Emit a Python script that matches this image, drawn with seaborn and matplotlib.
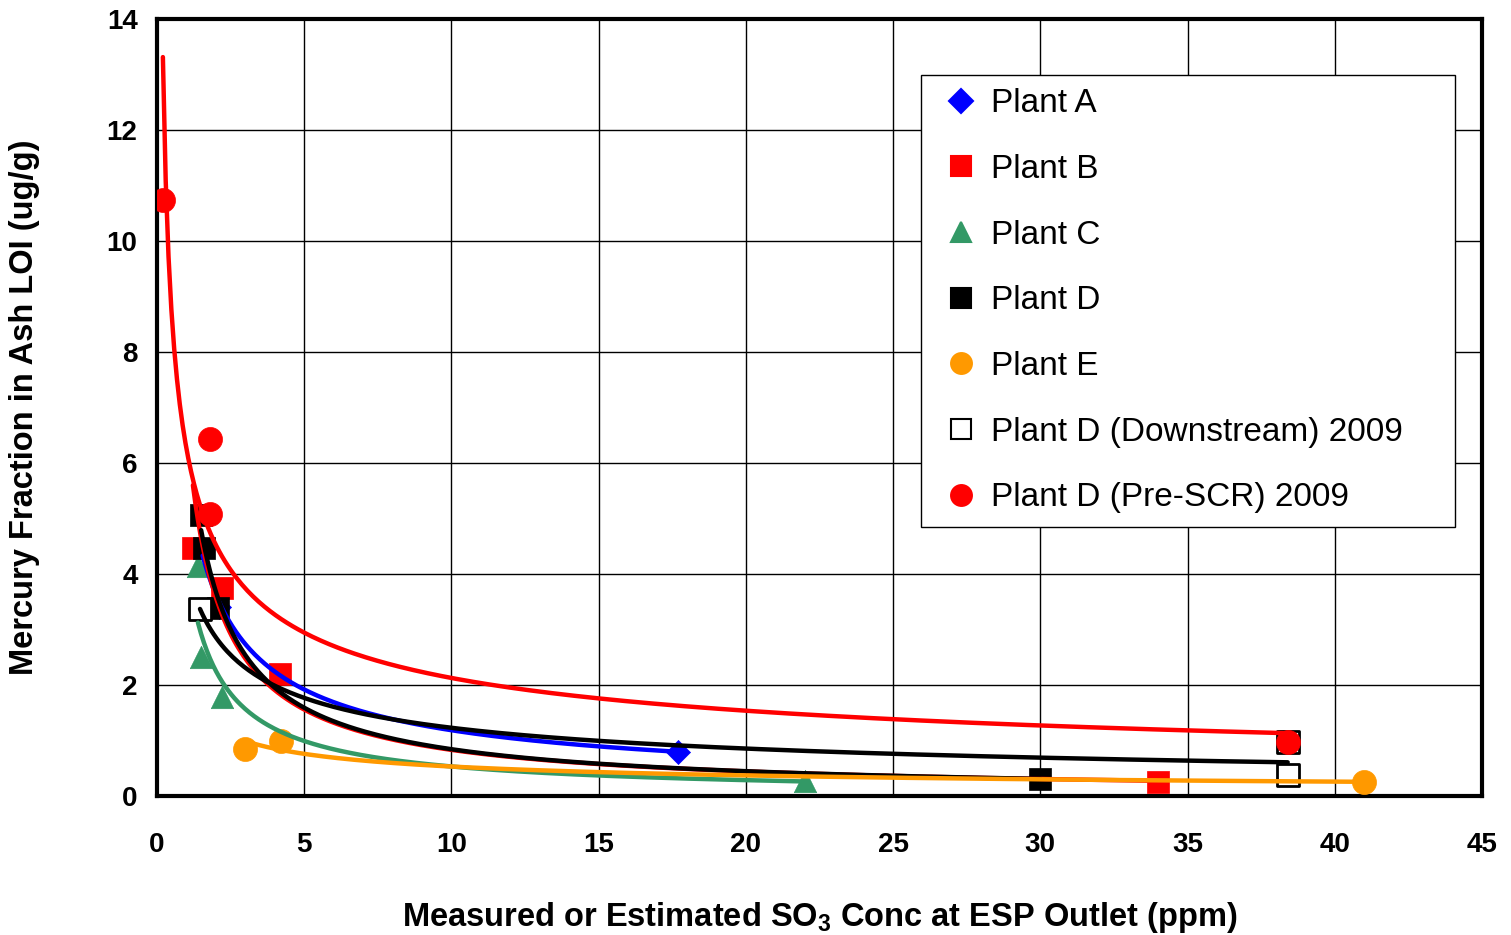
import numpy as np
import pandas as pd
import seaborn as sns
import matplotlib
matplotlib.use("Agg")
import matplotlib.pyplot as plt
from matplotlib.lines import Line2D

# ---- data ----
a_x = [1.55, 2.1, 17.7]
a_y = [4.45, 3.4, 0.80]
b_x = [1.22, 2.2, 4.18, 34.0]
b_y = [4.47, 3.75, 2.20, 0.25]
c_x = [1.39, 1.49, 2.2, 22.0]
c_y = [4.14, 2.50, 1.78, 0.27]
d_x = [1.5, 1.6, 2.07, 30.0]
d_y = [5.06, 4.47, 3.39, 0.31]
e_x = [2.99, 4.21, 41.0]
e_y = [0.85, 0.99, 0.25]
ds_x = [1.46, 38.4, 38.4]
ds_y = [3.37, 0.38, 0.97]
pre_x = [0.2, 1.8, 1.8, 38.4]
pre_y = [10.74, 6.43, 5.08, 0.97]

labels = ["Plant A", "Plant B", "Plant C", "Plant D", "Plant E",
          "Plant D (Downstream) 2009", "Plant D (Pre-SCR) 2009"]

series = [
    (labels[0], a_x, a_y, dict(marker="D", color="#0000FF", ec="#0000FF", s=150), "#0000FF"),
    (labels[1], b_x, b_y, dict(marker="s", color="#FF0000", ec="#FF0000", s=260), "#FF0000"),
    (labels[2], c_x, c_y, dict(marker="^", color="#339966", ec="#339966", s=260), "#339966"),
    (labels[3], d_x, d_y, dict(marker="s", color="#000000", ec="#000000", s=260), "#000000"),
    (labels[4], e_x, e_y, dict(marker="o", color="#FF9900", ec="#FF9900", s=300), "#FF9900"),
    (labels[5], ds_x, ds_y, dict(marker="s", color="#FFFFFF", ec="#000000", s=260), "#000000"),
    (labels[6], pre_x, pre_y, dict(marker="o", color="#FF0000", ec="#FF0000", s=300), "#FF0000"),
]

sns.set_theme(style="white")
plt.rcParams["font.family"] = ["Liberation Sans", "DejaVu Sans"]
plt.rcParams["mathtext.default"] = "regular"
for k in ["text.color", "axes.labelcolor", "xtick.color", "ytick.color"]:
    plt.rcParams[k] = "black"

fig = plt.figure(figsize=(15.11, 9.35), dpi=100)
ax = fig.add_axes([157/1511, 1-796/935, (1482-157)/1511, (796-19)/935])

handles = []
for name, xs, ys, st, lc in series:
    df = pd.DataFrame({"x": xs, "y": ys})
    sns.scatterplot(data=df, x="x", y="y", ax=ax, marker=st["marker"], color=st["color"],
                    edgecolor=st["ec"], linewidth=2 if st["color"] == "#FFFFFF" else 0.5,
                    s=st["s"], zorder=3, legend=False)
    handles.append(Line2D([], [], linestyle="none", marker=st["marker"],
                          markerfacecolor=st["color"], markeredgecolor=st["ec"],
                          markeredgewidth=1.5, markersize=15 if st["marker"] != "D" else 12,
                          label=name))

# power-law trendlines (y = a * x^b), fitted to each series
for name, xs, ys, st, lc in series:
    lx, ly = np.log(xs), np.log(ys)
    b, la = np.polyfit(lx, ly, 1)
    xx = np.linspace(min(xs), max(xs), 400)
    fit = pd.DataFrame({"x": xx, "y": np.exp(la) * xx ** b})
    sns.lineplot(data=fit, x="x", y="y", ax=ax, color=lc, linewidth=3.2, zorder=4,
                 legend=False)

ax.set_xlim(0, 45)
ax.set_ylim(0, 14)
ax.set_xticks(np.arange(0, 46, 5))
ax.set_yticks(np.arange(0, 15, 2))
ax.grid(True, color="black", linewidth=1.0)
ax.set_axisbelow(True)
for sp in ax.spines.values():
    sp.set_color("black")
    sp.set_linewidth(3)
ax.tick_params(axis="both", which="both", direction="out", length=6, width=1.5,
               color="black", labelsize=20)
ax.tick_params(axis="x", pad=20)
ax.tick_params(axis="y", pad=8)
for t in ax.get_xticklabels() + ax.get_yticklabels():
    t.set_fontweight("bold")

ax.set_xlabel("Measured or Estimated SO$_3$ Conc at ESP Outlet (ppm)",
              fontsize=23.5, fontweight="bold", labelpad=30)
ax.set_ylabel("Mercury Fraction in Ash LOI (ug/g)", fontsize=23.5, fontweight="bold", labelpad=48)

leg = ax.legend(handles=handles, loc="upper left",
                bbox_to_anchor=(0.5766, 0.3295, 0.403, 0.5985), mode="expand",
                fontsize=24, frameon=True, fancybox=False, shadow=False,
                labelspacing=1.04, handletextpad=0.1, borderpad=0.4,
                borderaxespad=0, handlelength=1.6)
leg.get_frame().set_edgecolor("black")
leg.get_frame().set_linewidth(1.0)
leg.get_frame().set_alpha(1)

fig.savefig("out.png", dpi=100)
